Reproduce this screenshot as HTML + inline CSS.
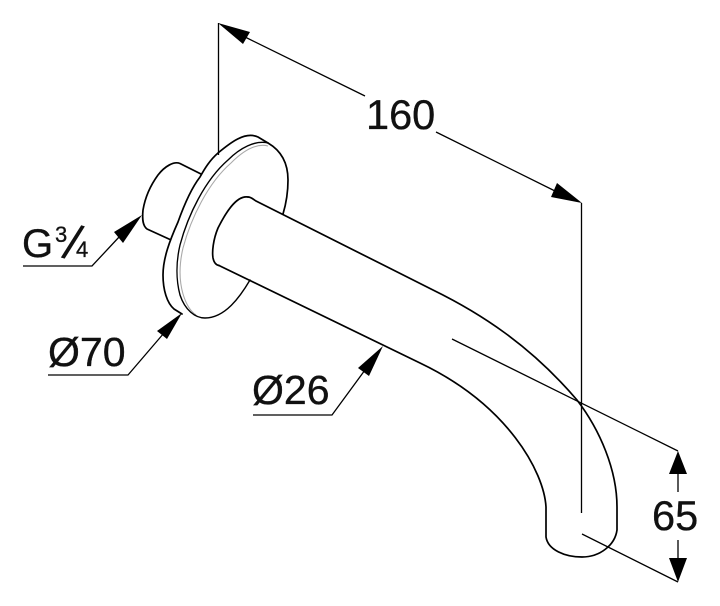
<!DOCTYPE html>
<html><head><meta charset="utf-8"><title>Spout dimensions</title>
<style>
html,body{margin:0;padding:0;background:#fff}
svg{display:block}
text{font-family:"Liberation Sans",Arial,sans-serif;fill:#111;stroke:#111;stroke-width:.35px;font-size:41.500px}
.b{fill:none;stroke:#000;stroke-width:1.7;stroke-linecap:round;stroke-linejoin:round}
.d{fill:none;stroke:#000;stroke-width:1.3}
.a{fill:#000;stroke:none}
</style></head>
<body>
<svg width="720" height="606" viewBox="0 0 720 606" xmlns="http://www.w3.org/2000/svg">
<rect width="720" height="606" fill="#fff"/>
<!-- small cylinder -->
<path class="b" d="M201 174 L180 163.500 C174 161 165 166 158 175 C150 186 145 198 143 210 C142 220 143 226 147 229 L170 239.500"/>
<!-- flange -->
<path class="b" d="M268 143 L258 137 C245 131 230 143 218 153 C210 160 205 168 200 177 C190 190 183 208 178 222 C170 240 163 258 163 275 C163 290 167 303 174 309 L182 314"/>
<path fill="none" stroke="#aaa" stroke-width="1.100" d="M268 146 C256 143 243 151 231 163 C208 183 191 218 183 248 C179 265 179 280 183 294 C186 304 190 311 196 315"/>
<path class="b" style="stroke-width:1.400" d="M268 143 C255 140 240 148 228 160 C205 180 188 215 180 245 C176 262 176 280 180 295 C185 310 195 318 205 318 C225 318 240 297 250 280"/>
<path class="b" d="M268 143 C280 150 288 162 288 180 C288 192 286 204 283 214"/>
<!-- pipe -->
<path class="b" d="M248 197 C236 195 225 214 218 228 C213 240 212 252 213 258 C214 263 216 265 219 265.500"/>
<path class="b" d="M248 197 C251 197 253 199 256 201 L433 290 C480 313 530 345 577 400 C600 430 617 470 617 507 L617 530 C615 545 600 557 582 557 C565 557 548 550 546 537 L546 507 C544 472 508 405 420 363 L219 265.500"/>
<!-- extension lines -->
<path class="d" d="M218.500 23 V155"/>
<path class="d" d="M581.500 203 V513"/>
<path class="d" d="M452 339 L678 451"/>
<path class="d" d="M582 534 L678 582"/>
<!-- 160 -->
<path class="d" d="M245 37 L365 96"/>
<path class="d" d="M436 132 L555 191"/>
<polygon class="a" points="218,23 250,32 243,44"/>
<polygon class="a" points="582,203 557,183 551,197"/>
<text x="366" y="129">160</text>
<!-- 65 -->
<path class="d" d="M678 470 V492 M678 540 V560"/>
<polygon class="a" points="678,451 669,474 687,474"/>
<polygon class="a" points="678,582 669,558 687,558"/>
<text x="652" y="530">65</text>
<!-- G3/4 -->
<path class="d" d="M23 266 H92 L120 236"/>
<polygon class="a" points="142,215 114,232 123,243"/>
<text x="22" y="257" style="font-size:40px">G</text>
<text x="55" y="242" style="font-size:22px">3</text>
<text transform="translate(61 257) rotate(17)" x="0" y="0" style="font-size:50px;stroke-width:0">/</text>
<text x="76" y="257" style="font-size:22px">4</text>
<!-- dia 70 -->
<path class="d" d="M48 375 H128 L164 333"/>
<polygon class="a" points="182,313 157,331 167,339"/>
<text x="48" y="366" style="font-size:41px">Ø70</text>
<!-- dia 26 -->
<path class="d" d="M253 415 H332 L365 370"/>
<polygon class="a" points="383,346 358,368 369,376"/>
<text x="252" y="404" style="font-size:41px">Ø26</text>
</svg>
</body></html>
